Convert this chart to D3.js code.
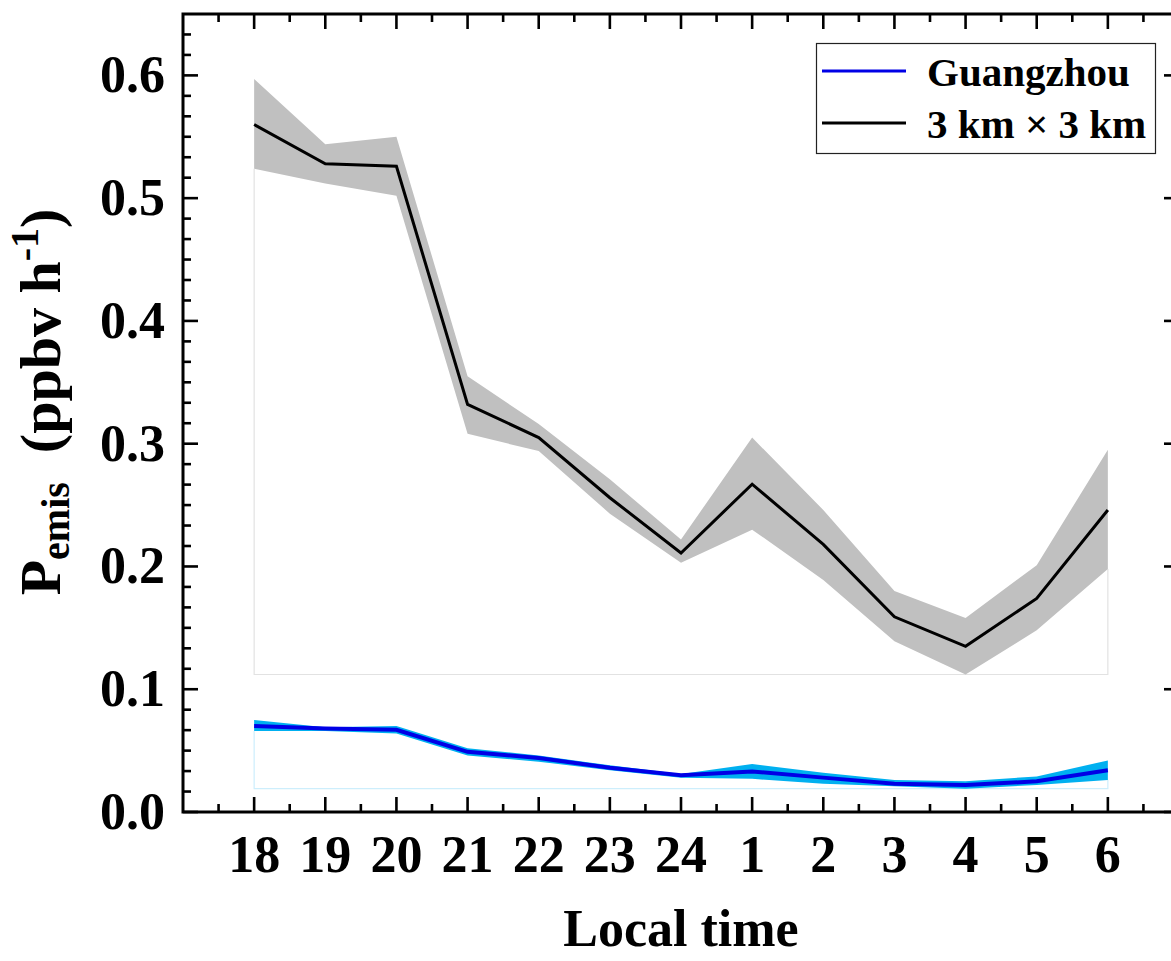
<!DOCTYPE html>
<html>
<head>
<meta charset="utf-8">
<script src="https://cdn.jsdelivr.net/npm/d3@7"></script>
<style>
  body { margin: 0; background: #fff; }
  text { font-family: "Liberation Serif", "Times New Roman", serif; font-weight: bold; }
</style>
</head>
<body>
<div id="chart"></div>
<script>
// hour labels on the x axis
var hours = ["18", "19", "20", "21", "22", "23", "24", "1", "2", "3", "4", "5", "6"];

// 3 km x 3 km grid: mean and range
var gridMean  = [0.560, 0.528, 0.526, 0.332, 0.305, 0.256, 0.211, 0.267, 0.218, 0.159, 0.135, 0.174, 0.246];
var gridUpper = [0.597, 0.544, 0.550, 0.355, 0.316, 0.271, 0.222, 0.305, 0.246, 0.180, 0.158, 0.201, 0.295];
var gridLower = [0.524, 0.512, 0.502, 0.308, 0.294, 0.243, 0.203, 0.230, 0.189, 0.139, 0.112, 0.148, 0.198];

// Guangzhou: mean and range
var gzMean  = [0.070, 0.068, 0.067, 0.049, 0.044, 0.036, 0.030, 0.033, 0.028, 0.023, 0.022, 0.025, 0.034];
var gzUpper = [0.075, 0.069, 0.070, 0.052, 0.046, 0.038, 0.031, 0.039, 0.032, 0.026, 0.025, 0.029, 0.042];
var gzLower = [0.066, 0.066, 0.064, 0.046, 0.041, 0.034, 0.028, 0.027, 0.023, 0.021, 0.019, 0.022, 0.026];

var yTicks = [0, 0.1, 0.2, 0.3, 0.4, 0.5, 0.6];

var W = 1171, H = 961;
// plot frame (right edge sits just past the picture, as in the original)
var pL = 183, pR = 1179, pT = 14, pB = 812;

var svg = d3.select("#chart")
  .append("svg")
    .attr("width", W)
    .attr("height", H);

var x = d3.scaleLinear().domain([-1, hours.length]).range([pL, pR]);
var y = d3.scaleLinear().domain([0, 0.65]).range([pB, pT]);

var idx = d3.range(hours.length);

// band + line helpers
function band(up, lo) {
  return d3.area()
    .x(function(i) { return x(i); })
    .y0(function(i) { return y(lo[i]); })
    .y1(function(i) { return y(up[i]); })(idx);
}
function line(vals) {
  return d3.line()
    .x(function(i) { return x(i); })
    .y(function(i) { return y(vals[i]); })(idx);
}
// faint outline left under the band (down to its lowest value)
function outline(lo) {
  var base = d3.min(lo);
  var n = lo.length - 1;
  return "M" + x(0) + "," + y(lo[0]) + "L" + x(0) + "," + y(base) +
         "L" + x(n) + "," + y(base) + "L" + x(n) + "," + y(lo[n]);
}

// grey band + black line
svg.append("path").attr("d", outline(gridLower))
  .attr("fill", "none").attr("stroke", "#e2e2e2").attr("stroke-width", 1.2);
svg.append("path").attr("d", band(gridUpper, gridLower)).attr("fill", "#c0c0c0");
svg.append("path").attr("d", line(gridMean))
  .attr("fill", "none").attr("stroke", "#000").attr("stroke-width", 3);

// blue band + blue line
svg.append("path").attr("d", outline(gzLower))
  .attr("fill", "none").attr("stroke", "#cdeefc").attr("stroke-width", 1.2);
svg.append("path").attr("d", band(gzUpper, gzLower)).attr("fill", "#00b0f0");
svg.append("path").attr("d", line(gzMean))
  .attr("fill", "none").attr("stroke", "#0000e6").attr("stroke-width", 4);

// axes (ticks pointing inward, mirrored on top/right)
var xMajor = d3.range(0, hours.length);
var xMinor = d3.range(-0.5, hours.length, 1);
var yMinor = d3.range(0, 0.65, 0.1 / 6).filter(function(v) {
  return Math.abs(v * 10 - Math.round(v * 10)) > 1e-6;
});

var ax = svg.append("g").attr("stroke", "#000").attr("stroke-width", 2.6);

function ticks(vals, len, horizontal) {
  vals.forEach(function(v) {
    if (horizontal) {
      ax.append("line").attr("x1", x(v)).attr("x2", x(v)).attr("y1", pB).attr("y2", pB - len);
      ax.append("line").attr("x1", x(v)).attr("x2", x(v)).attr("y1", pT).attr("y2", pT + len);
    } else {
      ax.append("line").attr("y1", y(v)).attr("y2", y(v)).attr("x1", pL).attr("x2", pL + len);
      ax.append("line").attr("y1", y(v)).attr("y2", y(v)).attr("x1", pR).attr("x2", pR - len);
    }
  });
}
ticks(xMajor, 15, true);
ticks(xMinor, 8, true);
ticks(yTicks, 15, false);
ticks(yMinor, 8, false);

ax.append("rect")
  .attr("x", pL).attr("y", pT)
  .attr("width", pR - pL).attr("height", pB - pT)
  .attr("fill", "none").attr("stroke-width", 3);

// tick labels
svg.append("g").selectAll("text")
  .data(yTicks)
  .enter()
  .append("text")
    .attr("x", 165)
    .attr("y", function(d) { return y(d) + 17; })
    .attr("text-anchor", "end")
    .style("font-size", "52px")
    .text(function(d) { return d3.format(".1f")(d); });

svg.append("g").selectAll("text")
  .data(hours)
  .enter()
  .append("text")
    .attr("x", function(d, i) { return x(i); })
    .attr("y", 872)
    .attr("text-anchor", "middle")
    .style("font-size", "52px")
    .text(function(d) { return d; });

// axis titles
svg.append("text")
  .attr("x", (pL + pR) / 2)
  .attr("y", 946)
  .attr("text-anchor", "middle")
  .style("font-size", "52px")
  .text("Local time");

var yl = svg.append("text")
  .attr("transform", "translate(60,402) rotate(-90)")
  .attr("text-anchor", "middle")
  .style("font-size", "58px");
yl.append("tspan").text("P");
yl.append("tspan").attr("dy", 9).style("font-size", "40px").text("emis");
yl.append("tspan").attr("dy", -9).text("\u00a0 (ppbv h");
yl.append("tspan").attr("dy", -22).style("font-size", "40px").text("-1");
yl.append("tspan").attr("dy", 22).text(")");

// legend
var lg = svg.append("g");
lg.append("rect")
  .attr("x", 816.5).attr("y", 43.5).attr("width", 339).attr("height", 110)
  .attr("fill", "#fff").attr("stroke", "#222").attr("stroke-width", 1.2);
var items = [
  {name: "Guangzhou", color: "#0000e6", y: 71},
  {name: "3 km \u00d7 3 km", color: "#000", y: 123}
];
items.forEach(function(d) {
  lg.append("line")
    .attr("x1", 822).attr("x2", 906).attr("y1", d.y).attr("y2", d.y)
    .attr("stroke", d.color).attr("stroke-width", 3);
  lg.append("text")
    .attr("x", 927).attr("y", d.y + 15)
    .style("font-size", "41px")
    .text(d.name);
});
</script>
</body>
</html>
